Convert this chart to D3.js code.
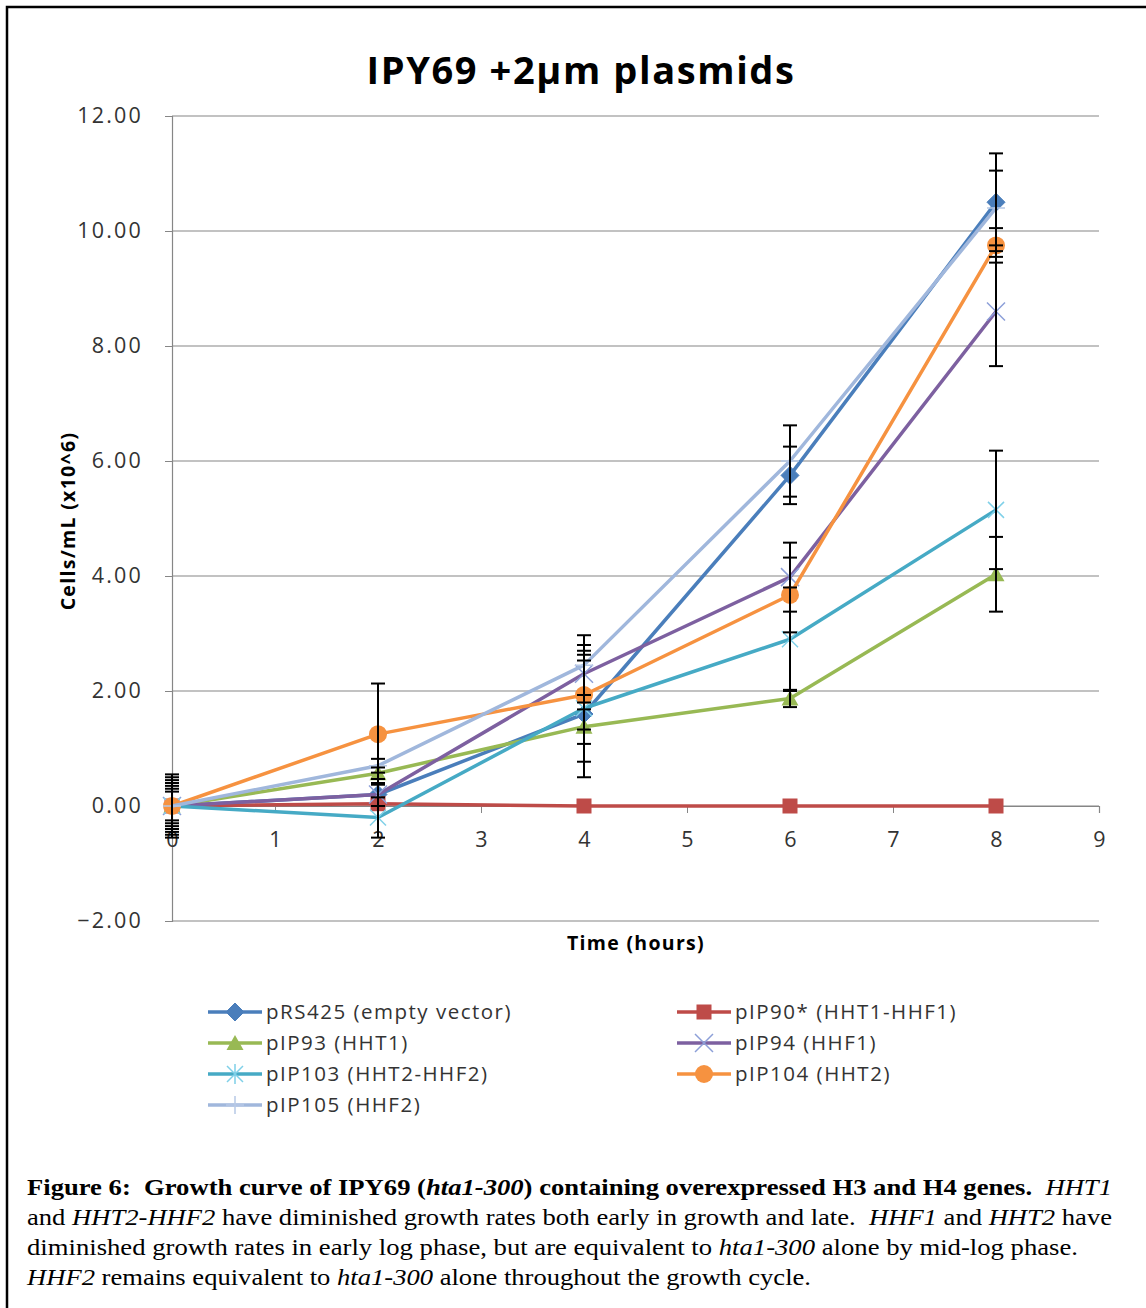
<!DOCTYPE html>
<html>
<head>
<meta charset="utf-8">
<script src="https://cdn.jsdelivr.net/npm/d3@7"></script>
<style>
  body { margin: 0; background: #fff; }
</style>
</head>
<body>
<svg id="chart" width="1146" height="1308"></svg>
<script>
// time points (hours)
const hours = [0, 2, 4, 6, 8];
const yTicks = [-2, 0, 2, 4, 6, 8, 10, 12];
const xTicks = [0, 1, 2, 3, 4, 5, 6, 7, 8, 9];

// cells/mL (x10^6)
const pRS425 = [0, 0.2, 1.6, 5.75, 10.5];
const pIP90 = [0, 0.04, 0, 0, 0];
const pIP93 = [0, 0.57, 1.38, 1.87, 4.03];
const pIP94 = [0, 0.2, 2.3, 3.98, 8.6];
const pIP103 = [0, -0.2, 1.7, 2.9, 5.15];
const pIP104 = [0, 1.25, 1.93, 3.67, 9.75];
const pIP105 = [0, 0.7, 2.45, 6.0, 10.4];

// error bar half-widths
const errRS425 = [0.4, 0.2, 1.1, 0.5, 0.85];
const err90 = [0.3, 0, 0, 0, 0];
const err93 = [0.25, 0.1, 0.3, 0.15, 0.65];
const err94 = [0.35, 0.2, 0.5, 0.6, 0.95];
const err103 = [0.45, 0.35, 0.93, 0.9, 1.03];
const err104 = [0.55, 0.88, 0.6, 0.65, 0.3];
const err105 = [0.5, 0.12, 0.52, 0.62, 0.65];

const seriesNames = ["pRS425 (empty vector)", "pIP90* (HHT1-HHF1)", "pIP93 (HHT1)", "pIP94 (HHF1)",
  "pIP103 (HHT2-HHF2)", "pIP104 (HHT2)", "pIP105 (HHF2)"];
const seriesValues = [pRS425, pIP90, pIP93, pIP94, pIP103, pIP104, pIP105];
const seriesErrors = [errRS425, err90, err93, err94, err103, err104, err105];
const colors = ["#4a7ebb", "#be4b48", "#98b954", "#7d60a0", "#46aac5", "#f69240", "#a0b7dc"];
const markers = ["diamond", "square", "triangle", "x", "star", "circle", "plus"];

const svg = d3.select("#chart");
const font = "'Open Sans', sans-serif";

// frame
svg.append("path").attr("d", "M7,1308 L7,7 L1146,7")
  .attr("fill", "none").attr("stroke", "#000").attr("stroke-width", 2.5);

const x = d3.scaleLinear().domain([0, 9]).range([172, 1099]);
const y = d3.scaleLinear().domain([-2, 12]).range([921, 116]);

// gridlines
svg.append("g").selectAll("line").data(yTicks).join("line")
  .attr("x1", x(0)).attr("x2", x(9))
  .attr("y1", d => y(d)).attr("y2", d => y(d))
  .attr("stroke", "#868686").attr("stroke-width", 1.2);

// y axis
const yAxis = svg.append("g").attr("transform", `translate(${x(0)},0)`)
  .call(d3.axisLeft(y).tickValues(yTicks).tickFormat(d3.format(".2f")).tickSize(7).tickPadding(22));
yAxis.select(".domain").attr("stroke", "#868686").attr("stroke-width", 1.2);
yAxis.selectAll(".tick line").attr("stroke", "#868686");
yAxis.selectAll("text").attr("font-family", font).attr("font-size", 21.5).attr("fill", "#333")
  .attr("letter-spacing", 2.2);

// x axis at y=0
const xAxis = svg.append("g").attr("transform", `translate(0,${y(0)})`)
  .call(d3.axisBottom(x).tickValues(xTicks).tickFormat(d3.format("d")).tickSize(7).tickPadding(26));
xAxis.select(".domain").attr("stroke", "#868686").attr("stroke-width", 1.2);
xAxis.selectAll(".tick line").attr("stroke", "#868686");
xAxis.selectAll("text").attr("font-family", font).attr("font-size", 21.5).attr("fill", "#333")
  .attr("dy", "0.35em");

// titles
svg.append("text").attr("x", 581).attr("y", 84).attr("text-anchor", "middle")
  .attr("font-family", font).attr("font-weight", "bold").attr("font-size", 38)
  .attr("letter-spacing", 1.6)
  .text("IPY69 +2µm plasmids");
svg.append("text").attr("x", 636).attr("y", 950).attr("text-anchor", "middle")
  .attr("font-family", font).attr("font-weight", "bold").attr("font-size", 19.5)
  .attr("letter-spacing", 1.3)
  .text("Time (hours)");
svg.append("text").attr("transform", "translate(75,521) rotate(-90)").attr("text-anchor", "middle")
  .attr("font-family", font).attr("font-weight", "bold").attr("font-size", 19.5)
  .attr("letter-spacing", 1.3)
  .text("Cells/mL (x10^6)");

// marker drawing
function drawMarker(g, type, color, cx, cy) {
  const s = g.append("g").attr("transform", `translate(${cx},${cy})`);
  if (type === "diamond") {
    s.append("path").attr("d", "M0,-9 L9,0 L0,9 L-9,0 Z").attr("fill", color).attr("stroke", color);
  } else if (type === "square") {
    s.append("rect").attr("x", -7.5).attr("y", -7.5).attr("width", 15).attr("height", 15).attr("fill", color);
  } else if (type === "triangle") {
    s.append("path").attr("d", "M0,-8 L8.5,7 L-8.5,7 Z").attr("fill", color);
  } else if (type === "circle") {
    s.append("circle").attr("r", 9).attr("fill", color);
  } else if (type === "x") {
    s.append("path").attr("d", "M-9,-9 L9,9 M-9,9 L9,-9").attr("stroke", "#8c9fd8").attr("stroke-width", 1.5);
  } else if (type === "star") {
    s.append("path").attr("d", "M-8,-8 L8,8 M-8,8 L8,-8 M0,-10 L0,10").attr("stroke", "#7fd0e8").attr("stroke-width", 1.5);
  } else if (type === "plus") {
    s.append("path").attr("d", "M0,-9 L0,9 M-9,0 L9,0").attr("stroke", "#b7c9e6").attr("stroke-width", 1.5);
  }
}

const line = d3.line().x(d => x(d[0])).y(d => y(d[1]));
const plot = svg.append("g");

seriesValues.forEach((vals, i) => {
  const pts = hours.map((h, j) => [h, vals[j]]);
  plot.append("path").datum(pts).attr("d", line)
    .attr("fill", "none").attr("stroke", colors[i]).attr("stroke-width", 3.5)
    .attr("stroke-linejoin", "round");
  pts.forEach(p => drawMarker(plot, markers[i], colors[i], x(p[0]), y(p[1])));
});

// error bars on top
const eb = svg.append("g").attr("stroke", "#000").attr("stroke-width", 2);
seriesValues.forEach((vals, i) => {
  hours.forEach((h, j) => {
    const e = seriesErrors[i][j];
    if (!e) return;
    const cx = x(h), y1 = y(vals[j] + e), y2 = y(vals[j] - e);
    eb.append("line").attr("x1", cx).attr("x2", cx).attr("y1", y1).attr("y2", y2);
    eb.append("line").attr("x1", cx - 7).attr("x2", cx + 7).attr("y1", y1).attr("y2", y1);
    eb.append("line").attr("x1", cx - 7).attr("x2", cx + 7).attr("y1", y2).attr("y2", y2);
  });
});

// legend
const legendPos = [[208, 1012], [677, 1012], [208, 1043], [677, 1043], [208, 1074], [677, 1074], [208, 1105]];
const legend = svg.append("g");
seriesNames.forEach((name, i) => {
  const [lx, ly] = legendPos[i];
  legend.append("line").attr("x1", lx).attr("x2", lx + 54).attr("y1", ly).attr("y2", ly)
    .attr("stroke", colors[i]).attr("stroke-width", 3.5);
  drawMarker(legend, markers[i], colors[i], lx + 27, ly);
  legend.append("text").attr("x", lx + 58).attr("y", ly + 7)
    .attr("font-family", font).attr("font-size", 20.5).attr("fill", "#333")
    .attr("letter-spacing", 1.5).text(name);
});

// caption, one text per line, squeezed to the reference's widths
const captionLines = [
  { w: 1085, parts: [["b", "Figure 6:  Growth curve of IPY69 ("], ["bi", "hta1-300"], ["b", ") containing overexpressed H3 and H4 genes."], ["", "  "], ["i", "HHT1"]] },
  { w: 1085, parts: [["", "and "], ["i", "HHT2-HHF2"], ["", " have diminished growth rates both early in growth and late.  "], ["i", "HHF1"], ["", " and "], ["i", "HHT2"], ["", " have"]] },
  { w: 1051, parts: [["", "diminished growth rates in early log phase, but are equivalent to "], ["i", "hta1-300"], ["", " alone by mid-log phase."]] },
  { w: 784, parts: [["i", "HHF2"], ["", " remains equivalent to "], ["i", "hta1-300"], ["", " alone throughout the growth cycle."]] }
];
captionLines.forEach((ln, k) => {
  const t = svg.append("text").attr("x", 27).attr("y", 1195 + k * 30)
    .attr("font-family", "Liberation Serif, Tinos, Times New Roman, Times, Nimbus Roman, FreeSerif, serif")
    .attr("font-size", 23)
    .attr("textLength", ln.w).attr("lengthAdjust", "spacingAndGlyphs")
    .attr("xml:space", "preserve").style("white-space", "pre");
  ln.parts.forEach(([st, s]) => {
    t.append("tspan")
      .attr("font-weight", st.includes("b") ? "bold" : null)
      .attr("font-style", st.includes("i") ? "italic" : null)
      .text(s);
  });
});
</script>
</body>
</html>
